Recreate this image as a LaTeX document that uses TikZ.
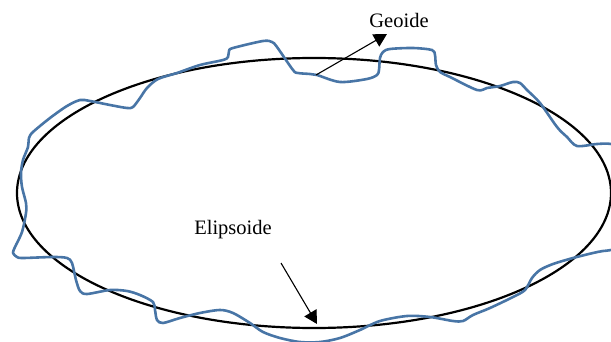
\documentclass[tikz,border=0pt]{standalone}
\usepackage{fontspec}
\setmainfont{Liberation Serif}
\usetikzlibrary{arrows.meta}
\definecolor{geoblue}{RGB}{72,117,166}
\tikzset{
  ellipsoid/.style={draw=black, line width=2.2pt},
  geoid/.style={draw=geoblue, line width=2.6pt, line join=round},
  pointer/.style={draw=black, line width=1.1pt, -{Triangle[length=13pt,width=14pt]}},
  label/.style={font=\fontsize{20.5}{24}\selectfont, anchor=base, inner sep=0pt}
}
\begin{document}
\begin{tikzpicture}[x=1pt,y=-1pt]
\useasboundingbox (0,0) rectangle (611,342);
\clip (0,0) rectangle (611,342);
\draw[ellipsoid] (314,193) ellipse [x radius=297, y radius=135];
\draw[geoid] plot[smooth cycle, tension=0.5] coordinates {
(28,147) (29,138) (33,132) (50,118) (67,106) (80,100) (90,101) (110,105) (127,108) (133,107) (140,98) (147,88) (158,79) (177,73) (200,65) (223,60) (228,57) (229,51) (233,48) (263,41) (272,42) (277,47) (293,70) (298,73) (310,74) (317,75) (340,82) (367,79) (377,75) (379,70) (380,58) (383,52) (390,49) (413,48) (432,50) (435,55) (436,65) (440,72) (450,77) (477,90) (487,88) (500,86) (513,82) (520,83) (527,90) (540,103) (557,127) (567,137) (577,146) (597,144) (611,144) (625,150) (632,200) (625,245) (611,250) (603,251) (593,253) (573,258) (553,264) (540,270) (532,278) (525,290) (513,297) (490,308) (473,315) (463,321) (453,321) (430,317) (407,316) (380,321) (360,330) (340,338) (320,342) (300,342) (280,338) (263,332) (250,323) (233,313) (220,310) (200,313) (180,318) (163,323) (157,320) (155,310) (153,302) (140,295) (127,291) (110,290) (87,294) (80,291) (76,280) (72,263) (67,258) (53,257) (23,258) (17,257) (13,253) (15,247) (22,232) (26,213) (26,203) (22,187) (21,173) (23,160)};
\node[label] (geo) at (399,28) {Geoide};
\node[label] (eli) at (233,234) {Elipsoide};
\coordinate (geoS) at (316,75);
\coordinate (geoT) at (387,34);
\coordinate (eliS) at (281,263);
\coordinate (eliT) at (317,324);
\draw[pointer] (geoS) -- (geoT);
\draw[pointer] (eliS) -- (eliT);
\end{tikzpicture}
\end{document}
